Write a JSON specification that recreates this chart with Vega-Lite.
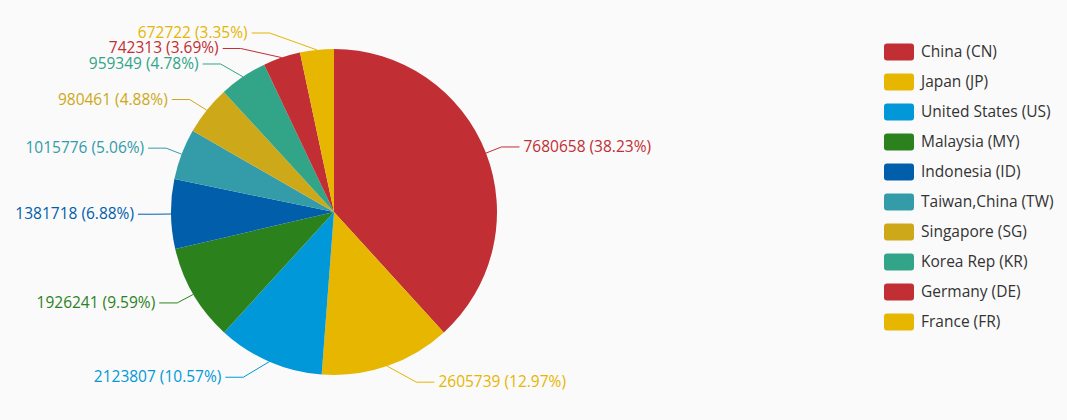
{
  "$schema": "https://vega.github.io/schema/vega-lite/v6.json",
  "width": 668,
  "height": 424,
  "padding": {"left": 0, "top": 0, "right": 40, "bottom": 0},
  "background": "#fafafa",
  "config": {"view": {"stroke": null}, "font": "Open Sans"},
  "data": {
    "values": [
      {"idx": 1, "country": "China (CN)", "value": 7680658, "pct": 38.23},
      {"idx": 2, "country": "Japan (JP)", "value": 2605739, "pct": 12.97},
      {"idx": 3, "country": "United States (US)", "value": 2123807, "pct": 10.57},
      {"idx": 4, "country": "Malaysia (MY)", "value": 1926241, "pct": 9.59},
      {"idx": 5, "country": "Indonesia (ID)", "value": 1381718, "pct": 6.88},
      {"idx": 6, "country": "Taiwan,China (TW)", "value": 1015776, "pct": 5.06},
      {"idx": 7, "country": "Singapore (SG)", "value": 980461, "pct": 4.88},
      {"idx": 8, "country": "Korea Rep (KR)", "value": 959349, "pct": 4.78},
      {"idx": 9, "country": "Germany (DE)", "value": 742313, "pct": 3.69},
      {"idx": 10, "country": "France (FR)", "value": 672722, "pct": 3.35}
    ]
  },
  "transform": [
    {"joinaggregate": [{"op": "sum", "field": "value", "as": "total"}]},
    {"window": [{"op": "sum", "field": "value", "as": "cum"}], "sort": [{"field": "idx"}], "frame": [null, 0]},
    {"calculate": "2*PI*(datum.cum - datum.value/2)/datum.total", "as": "a"},
    {"calculate": "sin(datum.a) >= 0 ? 1 : -1", "as": "side"},
    {"calculate": "212 - 180*cos(datum.a)", "as": "yn"},
    {"window": [{"op": "lag", "field": "yn", "as": "prevY"}], "groupby": ["side"], "sort": [{"field": "yn"}]},
    {"calculate": "datum.prevY == null ? datum.yn : max(datum.yn, datum.prevY + 15.5)", "as": "ly1"},
    {"window": [{"op": "lag", "field": "ly1", "as": "prevY1"}], "groupby": ["side"], "sort": [{"field": "yn"}]},
    {"calculate": "datum.prevY1 == null ? datum.ly1 : max(datum.ly1, datum.prevY1 + 15.5)", "as": "ly"},
    {"calculate": "334 + datum.side*178*sqrt(max(0, 1 - pow((datum.ly-212)/192, 2)))", "as": "ex"},
    {"calculate": "334 + 163*sin(datum.a)", "as": "px"},
    {"calculate": "212 - 163*cos(datum.a)", "as": "py"},
    {"calculate": "datum.ex + datum.side*18", "as": "lx"},
    {"calculate": "datum.lx + datum.side*4", "as": "tx"},
    {"calculate": "datum.value + ' (' + format(datum.pct, '.2f') + '%)'", "as": "label"}
  ],
  "layer": [
    {
      "mark": {"type": "arc", "radius": 163},
      "encoding": {
        "theta": {"field": "value", "type": "quantitative", "stack": true},
        "order": {"field": "idx", "type": "quantitative"},
        "color": {
          "field": "country",
          "type": "nominal",
          "sort": null,
          "scale": {
            "domain": ["China (CN)", "Japan (JP)", "United States (US)", "Malaysia (MY)", "Indonesia (ID)", "Taiwan,China (TW)", "Singapore (SG)", "Korea Rep (KR)", "Germany (DE)", "France (FR)"],
            "range": ["#c12e34", "#e6b600", "#0098d9", "#2b821d", "#005eaa", "#339ca8", "#cda819", "#32a487", "#c12e34", "#e6b600"]
          },
          "legend": {
            "title": null,
            "orient": "none",
            "legendX": 884,
            "legendY": 37,
            "padding": 0,
            "symbolType": "M-0.8,-0.567 L0.8,-0.567 Q1,-0.567 1,-0.367 L1,0.367 Q1,0.567 0.8,0.567 L-0.8,0.567 Q-1,0.567 -1,0.367 L-1,-0.367 Q-1,-0.567 -0.8,-0.567 Z",
            "symbolSize": 900,
            "symbolStrokeWidth": 0,
            "symbolOpacity": 1,
            "labelFont": "Open Sans",
            "labelFontSize": 15.5,
            "labelColor": "#333333",
            "labelOffset": 7,
            "rowPadding": 6,
            "labelLimit": 300
          }
        }
      }
    },
    {
      "mark": {"type": "rule", "strokeWidth": 1},
      "encoding": {
        "x": {"field": "px", "type": "quantitative", "scale": {"domain": [0, 668], "zero": false, "nice": false}, "axis": null},
        "y": {"field": "py", "type": "quantitative", "scale": {"domain": [0, 424], "zero": false, "nice": false, "reverse": true}, "axis": null},
        "x2": {"field": "ex"},
        "y2": {"field": "ly"},
        "color": {"field": "country", "type": "nominal", "legend": null}
      }
    },
    {
      "mark": {"type": "rule", "strokeWidth": 1},
      "encoding": {
        "x": {"field": "ex", "type": "quantitative"},
        "y": {"field": "ly", "type": "quantitative"},
        "x2": {"field": "lx"},
        "y2": {"field": "ly"},
        "color": {"field": "country", "type": "nominal", "legend": null}
      }
    },
    {
      "transform": [{"filter": "datum.side > 0"}],
      "mark": {"type": "text", "align": "left", "baseline": "middle", "fontSize": 15.5, "font": "Open Sans"},
      "encoding": {
        "x": {"field": "tx", "type": "quantitative"},
        "y": {"field": "ly", "type": "quantitative"},
        "text": {"field": "label"},
        "color": {"field": "country", "type": "nominal", "legend": null}
      }
    },
    {
      "transform": [{"filter": "datum.side < 0"}],
      "mark": {"type": "text", "align": "right", "baseline": "middle", "fontSize": 15.5, "font": "Open Sans"},
      "encoding": {
        "x": {"field": "tx", "type": "quantitative"},
        "y": {"field": "ly", "type": "quantitative"},
        "text": {"field": "label"},
        "color": {"field": "country", "type": "nominal", "legend": null}
      }
    }
  ],
  "resolve": {"scale": {"x": "shared", "y": "shared"}}
}
